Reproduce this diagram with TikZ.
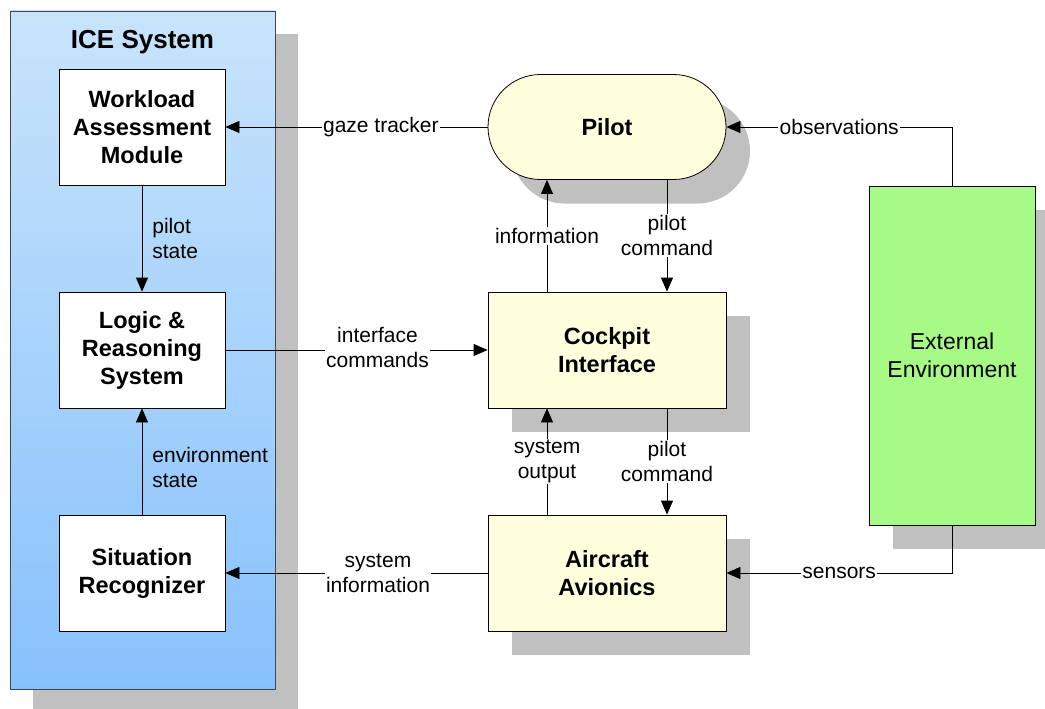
\documentclass[tikz,border=0pt]{standalone}
\usepackage{fontspec}
\setmainfont{Liberation Sans}
\usetikzlibrary{arrows.meta,shadows,calc}
\definecolor{shadowgray}{RGB}{192,192,192}
\definecolor{icetop}{RGB}{200,228,251}
\definecolor{icebot}{RGB}{135,193,252}
\definecolor{iceborder}{RGB}{60,72,90}
\definecolor{yel}{RGB}{255,255,221}
\definecolor{grn}{RGB}{168,250,134}
\newcommand\boxfont{\fontsize{23.5}{28}\selectfont\bfseries}
\newcommand\lblfont{\fontsize{21}{25}\selectfont}
\newcommand\extfont{\fontsize{23}{28}\selectfont}
\newcommand\titlefont{\fontsize{26}{31}\selectfont\bfseries}
\tikzset{
  shad/.style={drop shadow={shadow xshift=24pt,shadow yshift=-24pt,fill=shadowgray,opacity=1}},
  box/.style={draw=black, line width=0.8pt, fill=white, minimum width=166pt, minimum height=116pt, align=center, font=\boxfont, inner sep=0pt},
  ybox/.style={box, fill=yel, minimum width=238pt, shad},
  lbl/.style={fill=white, inner sep=1.5pt, align=center, font=\lblfont},
  side/.style={align=left, font=\lblfont, anchor=west, inner sep=0pt, xshift=10pt},
  arr/.style={-{Triangle[length=14pt,width=12pt]}, line width=0.8pt},
}
\begin{document}
\begin{tikzpicture}[x=1pt,y=-1pt]
\useasboundingbox (0,0) rectangle (1045,709);
\begin{scope}
\clip (0,0) rectangle (1045,709);
\node[draw=iceborder, line width=0.8pt, top color=icetop, bottom color=icebot, minimum width=265pt, minimum height=678pt, inner sep=0pt, drop shadow={shadow xshift=23pt,shadow yshift=-23pt,fill=shadowgray,opacity=1}] (ice) at (142.5,350) {};
\node[font=\titlefont, inner sep=0pt] (title) at (142.5,42) {ICE System};
\node[box] (work) at (142,127) {Workload\\Assessment\\Module};
\node[box] (logic) at (142,350) {Logic \&\\Reasoning\\System};
\node[box] (sit) at (142,573) {Situation\\Recognizer};
\node[ybox, rounded corners=52.5pt, minimum height=105pt] (pilot) at (607,127) {Pilot};
\node[ybox] (cockpit) at (607,350) {Cockpit\\Interface};
\node[ybox] (avion) at (607,573) {Aircraft\\Avionics};
\node[box, fill=grn, minimum width=166pt, minimum height=339pt, font=\extfont, shad] (ext) at (952,355.5) {External\\Environment};
\coordinate (xl) at (547,0);
\coordinate (xr) at (667,0);
\draw[arr] (pilot.west) -- node[lbl,pos=0.407]{gaze tracker} (work.east);
\draw[arr] (ext.north) |- node[lbl,pos=0.75]{observations} (pilot.east);
\draw[arr] (cockpit.north -| xl) -- node[lbl]{information} (pilot.south -| xl);
\draw[arr] (pilot.south -| xr) -- node[lbl]{pilot\\command} (cockpit.north -| xr);
\draw[arr] (logic.east) -- node[lbl,pos=0.58,yshift=3pt]{interface\\commands} (cockpit.west);
\draw[arr] (avion.north -| xl) -- node[lbl]{system\\output} (cockpit.south -| xl);
\draw[arr] (cockpit.south -| xr) -- node[lbl]{pilot\\command} (avion.north -| xr);
\draw[arr] (avion.west) -- node[lbl,pos=0.418]{system\\information} (sit.east);
\draw[arr] (ext.south) |- node[lbl,pos=0.75]{sensors} (avion.east);
\draw[arr] (work.south) -- node[side]{pilot\\state} (logic.north);
\draw[arr] (sit.north) -- node[side,pos=0.44]{environment\\state} (logic.south);
\end{scope}
\end{tikzpicture}
\end{document}
